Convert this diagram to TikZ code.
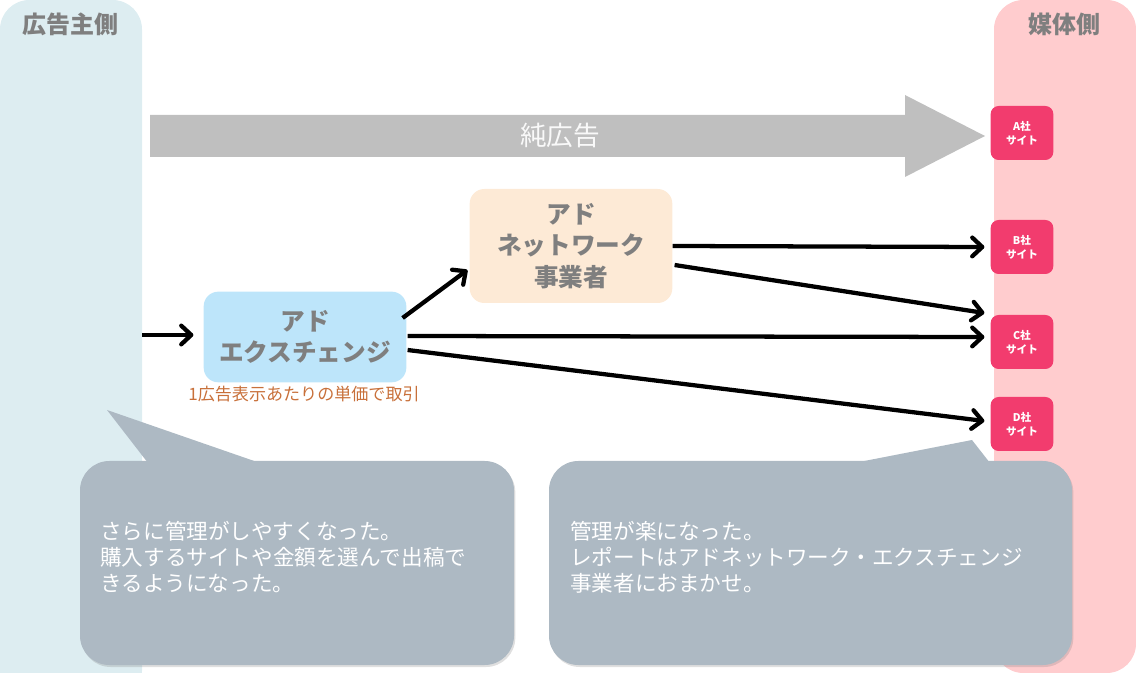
\documentclass[tikz,border=0pt]{standalone}
\usepackage{fontspec}
\setmainfont{Noto Sans CJK JP}
\usetikzlibrary{arrows.meta,calc,shadows}
\definecolor{leftbg}{HTML}{DDEDF1}
\definecolor{rightbg}{HTML}{FFCCCE}
\definecolor{sitec}{HTML}{F23C6E}
\definecolor{adnc}{HTML}{FDEAD6}
\definecolor{adxc}{HTML}{BDE5FA}
\definecolor{bigarrow}{HTML}{BFBFBF}
\definecolor{titlegray}{HTML}{7F7F7F}
\definecolor{bubblec}{HTML}{ADB9C3}
\definecolor{notec}{HTML}{C8703A}
\tikzset{
  panel/.style={rounded corners=22pt},
  title/.style={text=titlegray,font=\bfseries\fontsize{18}{22}\selectfont},
  site/.style={fill=sitec,rounded corners=6pt,minimum width=47pt,minimum height=40.5pt,
    text=white,align=center,inner sep=0pt,font=\bfseries\fontsize{8}{10.5}\selectfont},
  player/.style={rounded corners=11pt,text=titlegray,align=center,inner sep=0pt,
    font=\bfseries\fontsize{18.5}{23.5}\selectfont},
  flow/.style={line width=3.2pt,-{Straight Barb[round,length=7.5pt,width=14pt,line width=3.2pt]}},
  bubble/.style={fill=bubblec,drop shadow={opacity=0.25,shadow xshift=1pt,shadow yshift=-1.5pt}},
  bubbletext/.style={text=white,align=left,anchor=west,inner sep=0pt,
    font=\fontsize{16.2}{19.5}\selectfont},
}
\begin{document}
\begin{tikzpicture}[x=0.75pt,y=-0.75pt]
\useasboundingbox (0,0) rectangle (1136,673);
\clip (0,0) rectangle (1136,673);
% side panels
\fill[leftbg,panel] (0,0) rectangle (142,700);
\fill[rightbg,panel] (994,0) rectangle (1136,673);
\node[title] (ttl) at (70,24) {広告主側};
\node[title] (ttr) at (1064,24) {媒体側};
% big arrow
\fill[bigarrow] (150,115) -- (905,115) -- (905,95) -- (985,136) -- (905,177) -- (905,157) -- (150,157) -- cycle;
\node[text=white!95!gray,font=\fontsize{20}{24}\selectfont] (pure) at (560,135) {純広告};
% sites
\node[site] (A) at (1022,133) {A社\\サイト};
\node[site] (B) at (1022,247) {B社\\サイト};
\node[site] (C) at (1022,342) {C社\\サイト};
\node[site] (D) at (1022,424) {D社\\サイト};
% players
\node[player,fill=adnc,minimum width=152pt,minimum height=85.5pt] (adn) at (571,246) {アド\\ネットワーク\\事業者};
\node[player,fill=adxc,minimum width=152pt,minimum height=68pt] (adx) at (305,337) {アド\\エクスチェンジ};
\node[text=notec,font=\fontsize{12.8}{14}\selectfont] (note) at (304,394) {1広告表示あたりの単価で取引};
% connectors
\coordinate (in) at (142,335);
\draw[flow] (in) -- ($(adx.west)+(-10,-2)$);
\draw[flow] ($(adx.east)+(-4,-19)$) -- ($(adn.west)+(-2,24)$);
\draw[flow] (adn.east) -- ($(B.west)+(-6,0)$);
\draw[flow] ($(adn.east)+(2,19)$) -- ($(C.west)+(-6,-29)$);
\draw[flow] ($(adx.east)+(1,-1)$) -- ($(C.west)+(-6,-5)$);
\draw[flow] ($(adx.east)+(1,13)$) -- ($(D.west)+(-6,-3)$);
% bubbles
\path[bubble,rounded corners=22pt] (80,461) rectangle (514,665);
\fill[bubblec] (148,463) -- (107,410) -- (260,463) -- cycle;
\node[bubbletext] (lb) at (100,557) {さらに管理がしやすくなった。\\購入するサイトや金額を選んで出稿で\\きるようになった。};
\path[bubble,rounded corners=22pt] (549,461) rectangle (1072,665);
\fill[bubblec] (854,463) -- (972,440) -- (990,463) -- cycle;
\node[bubbletext] (rb) at (570,557) {管理が楽になった。\\レポートはアドネットワーク・エクスチェンジ\\事業者におまかせ。};
\end{tikzpicture}
\end{document}
